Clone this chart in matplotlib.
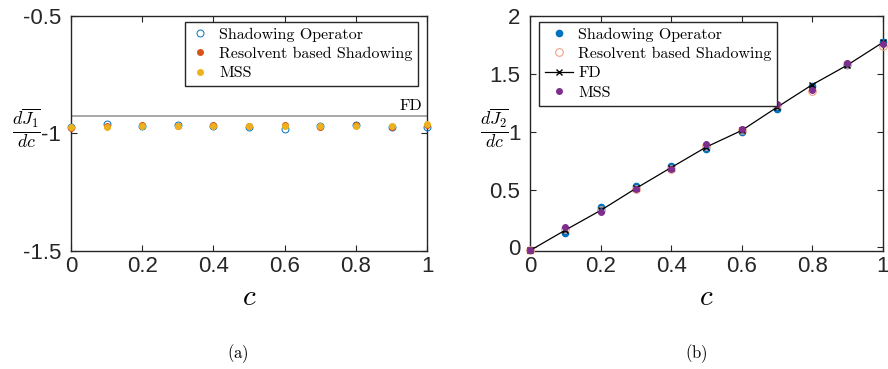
import numpy as np
import matplotlib.pyplot as plt

plt.rcParams['mathtext.fontset'] = 'cm'
plt.rcParams['axes.unicode_minus'] = False
plt.rcParams['font.family'] = ['Liberation Sans', 'DejaVu Sans']

# sensitivity estimates vs. parameter c
c = [0.0, 0.1, 0.2, 0.3, 0.4, 0.5, 0.6, 0.7, 0.8, 0.9, 1.0]

# dJ1/dc
j1_fd = -0.925
j1_shadow = [-0.971, -0.961, -0.967, -0.963, -0.968, -0.972, -0.981, -0.969, -0.964, -0.971, -0.974]
j1_resolvent = [-0.978, -0.970, -0.966, -0.970, -0.966, -0.970, -0.966, -0.974, -0.966, -0.971, -0.964]
j1_mss = [-0.973, -0.972, -0.968, -0.968, -0.968, -0.970, -0.969, -0.970, -0.967, -0.970, -0.960]

# dJ2/dc
j2_shadow = [-0.026, 0.127, 0.345, 0.528, 0.700, 0.850, 0.994, 1.198, 1.390, 1.575, 1.770]
j2_resolvent = [-0.026, 0.155, 0.320, 0.506, 0.680, 0.880, 1.010, 1.230, 1.347, 1.585, 1.740]
j2_fd = [-0.026, 0.150, 0.320, 0.510, 0.690, 0.868, 1.010, 1.210, 1.405, 1.575, 1.770]
j2_mss = [-0.026, 0.178, 0.308, 0.506, 0.680, 0.894, 1.026, 1.239, 1.362, 1.589, 1.753]

blue = '#0072BD'
orange = '#D95319'
yellow = '#EDB120'
purple = '#7E2F8E'

fig = plt.figure(figsize=(8.88, 3.69), dpi=100)
ax1 = fig.add_axes([0.080, 0.320, 0.401, 0.637])
ax2 = fig.add_axes([0.597, 0.320, 0.397, 0.637])

leg_font = {'family': 'cmr10', 'size': 11.5}

# panel (a)
ax1.axhline(j1_fd, color='#a0a0a0', lw=1.3, zorder=1)
ax1.plot(c, j1_shadow, 'o', ls='none', mfc='none', mec=blue, mew=0.7, ms=5,
         label='Shadowing Operator', clip_on=False, zorder=3)
ax1.plot(c, j1_resolvent, 'o', ls='none', mfc=orange, mec=orange, ms=4,
         label='Resolvent based Shadowing', clip_on=False, zorder=3)
ax1.plot(c, j1_mss, 'o', ls='none', mfc=yellow, mec=yellow, ms=4,
         label='MSS', clip_on=False, zorder=4)
ax1.text(0.985, j1_fd + 0.012, 'FD', transform=ax1.get_yaxis_transform(),
         ha='right', va='bottom', fontdict=leg_font)
ax1.set_xlim(0, 1)
ax1.set_ylim(-1.5, -0.5)
ax1.set_yticks([-1.5, -1, -0.5])
ax1.set_yticklabels(['-1.5', '-1', '-0.5'])
ax1.text(-0.125, 0.52, r'$\frac{d\overline{J_1}}{dc}$', transform=ax1.transAxes,
         ha='center', va='center', fontsize=18.5)
leg1 = ax1.legend(loc='upper right', bbox_to_anchor=(0.975, 0.975), prop=leg_font,
                  fancybox=False, framealpha=1, edgecolor='#262626',
                  handlelength=1.2, handletextpad=0.6, labelspacing=0.33,
                  borderpad=0.35, borderaxespad=0)
leg1.get_frame().set_linewidth(1.0)

# panel (b)
ax2.plot(c, j2_shadow, 'o', ls='none', mfc=blue, mec=blue, ms=4.5,
         label='Shadowing Operator', clip_on=False, zorder=3)
ax2.plot(c, j2_resolvent, 'o', ls='none', mfc='none', mec='#f0a080', mew=0.8, ms=5.5,
         label='Resolvent based Shadowing', clip_on=False, zorder=3)
ax2.plot(c, j2_fd, '-x', color='black', lw=0.9, ms=4, mew=1.0,
         label='FD', clip_on=False, zorder=4)
ax2.plot(c, j2_mss, 'o', ls='none', mfc=purple, mec=purple, ms=4,
         label='MSS', clip_on=False, zorder=5)
ax2.set_xlim(0, 1)
ax2.set_ylim(-0.03, 2)
ax2.set_yticks([0, 0.5, 1, 1.5, 2])
ax2.set_yticklabels(['0', '0.5', '1', '1.5', '2'])
ax2.text(-0.102, 0.52, r'$\frac{d\overline{J_2}}{dc}$', transform=ax2.transAxes,
         ha='center', va='center', fontsize=18.5)
leg2 = ax2.legend(loc='upper left', bbox_to_anchor=(0.025, 0.975), prop=leg_font,
                  fancybox=False, framealpha=1, edgecolor='#262626',
                  handlelength=1.8, handletextpad=0.3, labelspacing=0.33,
                  borderpad=0.35, borderaxespad=0)
leg2.get_frame().set_linewidth(1.0)

for ax in (ax1, ax2):
    ax.set_xticks([0, 0.2, 0.4, 0.6, 0.8, 1])
    ax.set_xticklabels(['0', '0.2', '0.4', '0.6', '0.8', '1'])
    ax.tick_params(direction='in', length=4, width=0.8, top=True, right=True,
                   labelsize=16, colors='#262626')
    ax.tick_params(axis='y', pad=7)
    ax.tick_params(axis='x', pad=4)
    for s in ax.spines.values():
        s.set_linewidth(1.0)
        s.set_color('#262626')
    ax.set_xlabel(r'$c$', fontsize=21, labelpad=4)

fig.text(238 / 888, 1 - 354 / 369, r'$\mathrm{(a)}$', ha='center', va='center', fontsize=12)
fig.text(696 / 888, 1 - 354 / 369, r'$\mathrm{(b)}$', ha='center', va='center', fontsize=12)

fig.savefig('out.png', dpi=100)
